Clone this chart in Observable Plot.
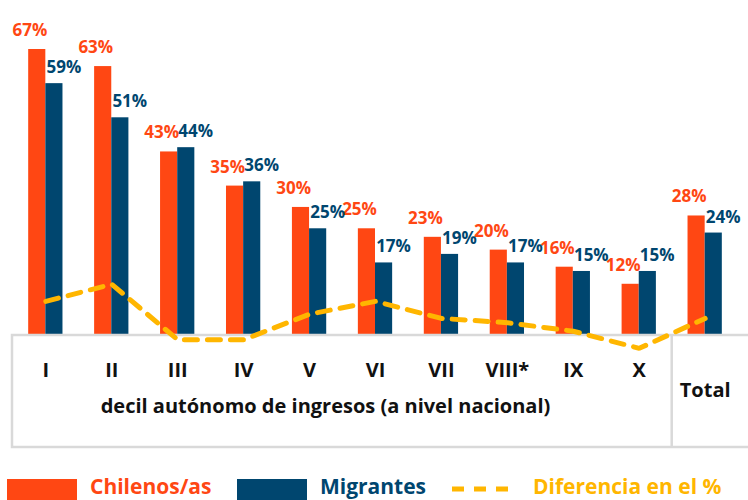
<!DOCTYPE html>
<html>
<head>
<meta charset="utf-8">
<script src="https://cdn.jsdelivr.net/npm/d3@7"></script>
<script src="https://cdn.jsdelivr.net/npm/@observablehq/plot@0.6"></script>
<style>
  html, body { margin: 0; padding: 0; background: #fff; overflow: hidden; }
  #wrap { position: relative; width: 748px; height: 500px; font-family: "Open Sans", sans-serif; }
  #legend { position: absolute; left: 0; top: 0; width: 748px; height: 500px; pointer-events: none; }
  .sw { position: absolute; top: 479px; width: 70px; height: 24px; }
  .lt { position: absolute; top: 476px; font-size: 21px; line-height: 1; font-weight: 700; white-space: nowrap; }
</style>
</head>
<body>
<div id="wrap"><div id="chart"></div><div id="legend"></div></div>
<script>
const categories = ["I", "II", "III", "IV", "V", "VI", "VII", "VIII*", "IX", "X", "Total"];
const chilenos   = [67, 63, 43, 35, 30, 25, 23, 20, 16, 12, 28];
const migrantes  = [59, 51, 44, 36, 25, 17, 19, 17, 15, 15, 24];
const diferencia = [8, 12, -1, -1, 5, 8, 4, 3, 1, -3, 4];
const axisTitle = "decil autónomo de ingresos (a nivel nacional)";
const seriesNames = ["Chilenos/as", "Migrantes", "Diferencia en el %"];

const ORANGE = "#FF4713", BLUE = "#00466F", GOLD = "#FFB600", BORDER = "#d9d9d9";

const data = categories.map((c, i) => ({cat: c, chile: chilenos[i], mig: migrantes[i], diff: diferencia[i]}));
const deciles = categories.filter(c => c !== "Total");

const W = 748, H = 460, baseY = 335, topY = 49;

// decorative box beneath the bars, using the scales
function box(index, scales, values, dims) {
  const x = scales.x, y = scales.y, bw = x.bandwidth();
  const y0 = y(0);
  const divX = (x("X") + x("Total") + bw) / 2;
  const g = d3.create("svg:g");
  g.append("rect").attr("x", 12).attr("y", y0).attr("width", 760).attr("height", 112)
    .attr("fill", "none").attr("stroke", BORDER).attr("stroke-width", 2.5);
  g.append("line").attr("x1", divX).attr("x2", divX).attr("y1", y0).attr("y2", y0 + 112)
    .attr("stroke", BORDER).attr("stroke-width", 2.5);
  return g.node();
}

const chart = Plot.plot({
  width: W, height: H,
  marginLeft: 15, marginRight: 13, marginTop: topY, marginBottom: H - baseY,
  x: {domain: categories, paddingInner: 0.48, paddingOuter: 0.2, round: false, axis: null},
  y: {domain: [0, d3.max(chilenos)], axis: null},
  style: {fontFamily: "'Open Sans', sans-serif", background: "#fff"},
  marks: [
    Plot.barY(data, {x: "cat", y: "chile", fill: ORANGE, insetRight: 17.15}),
    Plot.barY(data, {x: "cat", y: "mig", fill: BLUE, insetLeft: 17.15}),
    box,
    Plot.lineY(data, {x: "cat", y: "diff", stroke: GOLD, strokeWidth: 5, strokeDasharray: "13,10", strokeLinejoin: "miter"}),
    Plot.text(data, {x: "cat", y: "chile", text: d => d.chile + "%", dx: -16, dy: -19, fill: ORANGE, fontSize: 17, fontWeight: "bold", style: {letterSpacing: "0.3px"}}),
    Plot.text(data, {x: "cat", y: "mig", text: d => d.mig + "%", dx: 18, dy: -16, fill: BLUE, fontSize: 17, fontWeight: "bold", style: {letterSpacing: "0.3px"}}),
    Plot.axisX({ticks: deciles, tickSize: 0, tickPadding: 27, fontSize: 20, fontWeight: "bold", fill: "#111", label: null}),
    Plot.axisX({ticks: ["Total"], tickSize: 0, tickPadding: 47, fontSize: 20, fontWeight: "bold", fill: "#111", label: null}),
    Plot.text([axisTitle], {frameAnchor: "bottom", dx: -50, dy: 77, fontSize: 20, fontWeight: "bold", fill: "#111"})
  ]
});
document.getElementById("chart").appendChild(chart);

// legend
const lg = document.getElementById("legend");
function add(cls, left, style, text) {
  const d = document.createElement("div");
  d.className = cls; d.style.left = left + "px";
  Object.assign(d.style, style);
  if (text) d.textContent = text;
  lg.appendChild(d);
}
add("sw", 7, {background: ORANGE});
add("lt", 90, {color: ORANGE}, seriesNames[0]);
add("sw", 237, {background: BLUE});
add("lt", 320, {color: BLUE}, seriesNames[1]);
const dash = document.createElementNS("http://www.w3.org/2000/svg", "svg");
dash.setAttribute("width", 62); dash.setAttribute("height", 10);
dash.style.position = "absolute"; dash.style.left = "452px"; dash.style.top = "484px";
dash.innerHTML = `<line x1="0" y1="5" x2="62" y2="5" stroke="${GOLD}" stroke-width="5" stroke-dasharray="12,10"/>`;
lg.appendChild(dash);
add("lt", 533, {color: GOLD}, seriesNames[2]);
</script>
</body>
</html>
